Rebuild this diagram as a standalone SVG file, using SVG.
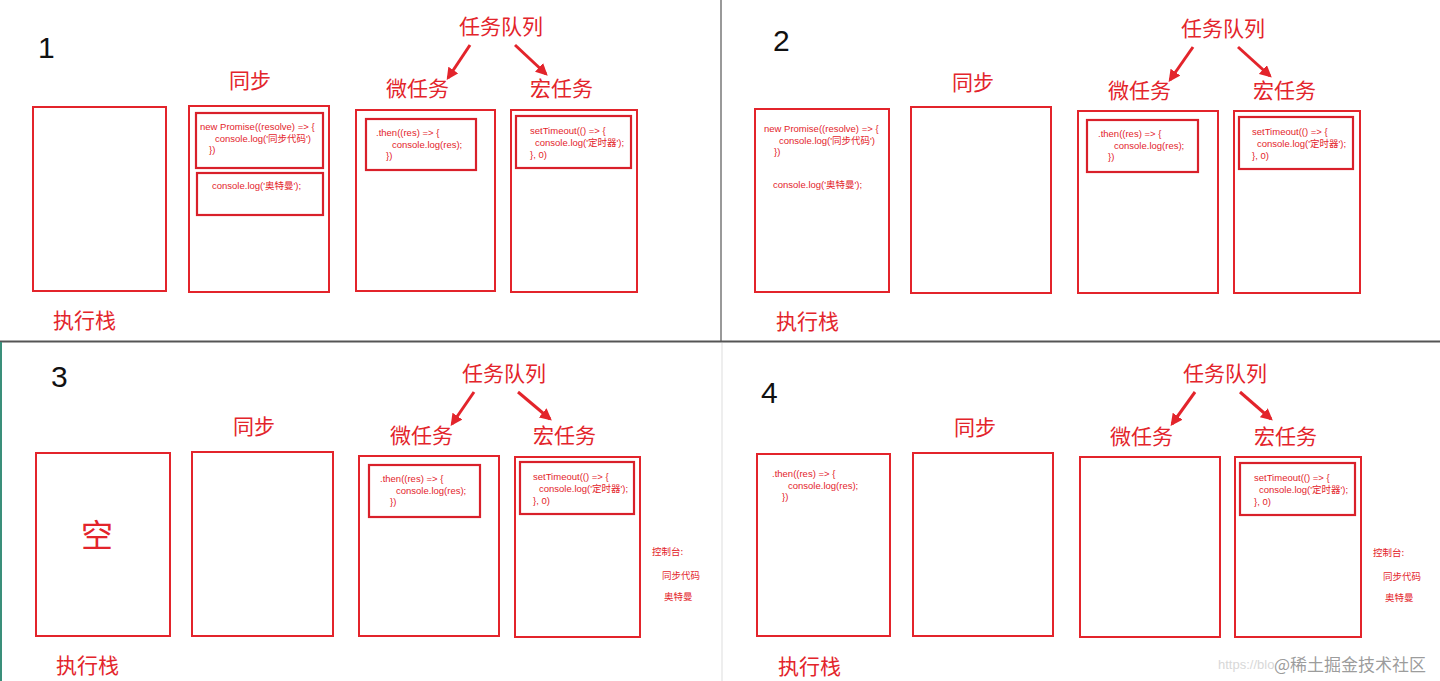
<svg xmlns="http://www.w3.org/2000/svg" width="1440" height="681" viewBox="0 0 1440 681">
<defs>
<marker id="ah" viewBox="0 0 10 10" refX="8" refY="5" markerWidth="4" markerHeight="4" orient="auto" markerUnits="strokeWidth">
<path d="M0,0 L10,5 L0,10 z" fill="#e3242b"/>
</marker>
</defs>
<style>
.box{fill:none;stroke:#e3242b;stroke-width:2}
.inner{fill:none;stroke:#d9202a;stroke-width:2.2}
.t{font-family:"Noto Sans CJK SC","Microsoft YaHei",sans-serif;fill:#e3242b}
.h{font-size:21px}
.num{font-family:"Liberation Sans",Arial,sans-serif;font-size:30px;fill:#111}
.code{font-family:"Liberation Sans","Noto Sans CJK SC",sans-serif;font-size:9.5px;fill:#e3242b}
.cn{font-family:"Noto Sans CJK SC",sans-serif;font-size:9.5px;fill:#e3242b}
.arr{stroke:#e3242b;stroke-width:3;fill:none;marker-end:url(#ah)}
.big{font-size:32px}
</style>
<rect x="0" y="0" width="1440" height="681" fill="#ffffff"/>
<g id="dividers">
<line x1="721" y1="0" x2="721" y2="341" stroke="#777" stroke-width="1.5"/>
<line x1="0" y1="341.5" x2="1440" y2="341.5" stroke="#555" stroke-width="2"/>
<line x1="722" y1="343" x2="722" y2="681" stroke="#ddd" stroke-width="1"/>
<line x1="1" y1="342" x2="1" y2="681" stroke="#3a8f7a" stroke-width="2"/>
</g>

<!-- Panel 1 -->
<g id="p1-labels">
<text class="num" x="38" y="58">1</text>
<text class="t h" x="229" y="88">同步</text>
<text class="t h" x="459" y="34" font-size="22">任务队列</text>
<text class="t h" x="386" y="96">微任务</text>
<text class="t h" x="530" y="96">宏任务</text>
<text class="t h" x="53" y="328" font-size="20">执行栈</text>
</g>
<g id="p1-stack"><rect class="box" x="33" y="107" width="133" height="184"/></g>
<g id="p1-sync">
<rect class="box" x="189" y="106" width="140" height="186"/>
<rect class="inner" x="196" y="113" width="127" height="55"/>
<text class="code" x="200" y="130">new Promise((resolve) =&gt; {</text>
<text class="code" x="215" y="142">console.log('同步代码')</text>
<text class="code" x="209" y="153">})</text>
<rect class="inner" x="197" y="173" width="126" height="42"/>
<text class="code" x="212" y="189">console.log('奥特曼');</text>
</g>
<g id="p1-micro">
<rect class="box" x="356" y="110" width="139" height="181"/>
<rect class="inner" x="366" y="119" width="110" height="51"/>
<text class="code" x="376" y="136">.then((res) =&gt; {</text>
<text class="code" x="392" y="148">console.log(res);</text>
<text class="code" x="386" y="159">})</text>
</g>
<g id="p1-macro">
<rect class="box" x="511" y="110" width="126" height="182"/>
<rect class="inner" x="516" y="116" width="115" height="52"/>
<text class="code" x="530" y="134">setTimeout(() =&gt; {</text>
<text class="code" x="535" y="146">console.log('定时器');</text>
<text class="code" x="530" y="158">}, 0)</text>
</g>

<!-- Panel 2 -->
<g id="p2-labels">
<text class="num" x="773" y="51">2</text>
<text class="t h" x="952" y="90">同步</text>
<text class="t h" x="1181" y="36" font-size="22">任务队列</text>
<text class="t h" x="1108" y="98">微任务</text>
<text class="t h" x="1253" y="98">宏任务</text>
<text class="t h" x="776" y="329" font-size="20">执行栈</text>
</g>
<g id="p2-stack">
<rect class="box" x="755" y="109" width="134" height="183"/>
<text class="code" x="764" y="132">new Promise((resolve) =&gt; {</text>
<text class="code" x="779" y="144">console.log('同步代码')</text>
<text class="code" x="774" y="155">})</text>
<text class="code" x="773" y="188">console.log('奥特曼');</text>
</g>
<g id="p2-sync"><rect class="box" x="911" y="107" width="140" height="186"/></g>
<g id="p2-micro">
<rect class="box" x="1078" y="111" width="140" height="182"/>
<rect class="inner" x="1087" y="120" width="111" height="52"/>
<text class="code" x="1098" y="137">.then((res) =&gt; {</text>
<text class="code" x="1114" y="149">console.log(res);</text>
<text class="code" x="1108" y="160">})</text>
</g>
<g id="p2-macro">
<rect class="box" x="1234" y="111" width="126" height="182"/>
<rect class="inner" x="1239" y="117" width="114" height="52"/>
<text class="code" x="1252" y="135">setTimeout(() =&gt; {</text>
<text class="code" x="1257" y="147">console.log('定时器');</text>
<text class="code" x="1252" y="159">}, 0)</text>
</g>

<!-- Panel 3 -->
<g id="p3-labels">
<text class="num" x="51" y="387">3</text>
<text class="t h" x="233" y="434">同步</text>
<text class="t h" x="462" y="381" font-size="22">任务队列</text>
<text class="t h" x="390" y="443">微任务</text>
<text class="t h" x="533" y="443">宏任务</text>
<text class="t h" x="56" y="673" font-size="20">执行栈</text>
</g>
<g id="p3-stack">
<rect class="box" x="36" y="453" width="134" height="183"/>
<text class="t big" x="81" y="547">空</text>
</g>
<g id="p3-sync"><rect class="box" x="192" y="452" width="141" height="184"/></g>
<g id="p3-micro">
<rect class="box" x="359" y="456" width="140" height="180"/>
<rect class="inner" x="369" y="465" width="111" height="52"/>
<text class="code" x="380" y="482">.then((res) =&gt; {</text>
<text class="code" x="396" y="494">console.log(res);</text>
<text class="code" x="390" y="505">})</text>
</g>
<g id="p3-macro">
<rect class="box" x="515" y="457" width="125" height="180"/>
<rect class="inner" x="520" y="462" width="114" height="52"/>
<text class="code" x="533" y="480">setTimeout(() =&gt; {</text>
<text class="code" x="539" y="492">console.log('定时器');</text>
<text class="code" x="533" y="504">}, 0)</text>
</g>
<g id="p3-console">
<text class="cn" x="652" y="555">控制台:</text>
<text class="cn" x="662" y="579">同步代码</text>
<text class="cn" x="664" y="600">奥特曼</text>
</g>

<!-- Panel 4 -->
<g id="p4-labels">
<text class="num" x="761" y="403">4</text>
<text class="t h" x="954" y="435">同步</text>
<text class="t h" x="1183" y="381" font-size="22">任务队列</text>
<text class="t h" x="1110" y="444">微任务</text>
<text class="t h" x="1254" y="444">宏任务</text>
<text class="t h" x="778" y="674" font-size="20">执行栈</text>
</g>
<g id="p4-stack">
<rect class="box" x="757" y="454" width="133" height="182"/>
<text class="code" x="772" y="477">.then((res) =&gt; {</text>
<text class="code" x="788" y="489">console.log(res);</text>
<text class="code" x="782" y="500">})</text>
</g>
<g id="p4-sync"><rect class="box" x="913" y="453" width="140" height="183"/></g>
<g id="p4-micro"><rect class="box" x="1080" y="457" width="140" height="180"/></g>
<g id="p4-macro">
<rect class="box" x="1235" y="457" width="126" height="180"/>
<rect class="inner" x="1240" y="463" width="115" height="52"/>
<text class="code" x="1254" y="481">setTimeout(() =&gt; {</text>
<text class="code" x="1259" y="493">console.log('定时器');</text>
<text class="code" x="1254" y="505">}, 0)</text>
</g>
<g id="p4-console">
<text class="cn" x="1373" y="556">控制台:</text>
<text class="cn" x="1383" y="580">同步代码</text>
<text class="cn" x="1385" y="601">奥特曼</text>
</g>

<g id="connectors">
<line class="arr" x1="470" y1="45" x2="448" y2="78"/>
<line class="arr" x1="515" y1="45" x2="546" y2="74"/>
<line class="arr" x1="1193" y1="47" x2="1170" y2="80"/>
<line class="arr" x1="1238" y1="47" x2="1270" y2="76"/>
<line class="arr" x1="474" y1="392" x2="452" y2="424"/>
<line class="arr" x1="518" y1="392" x2="550" y2="419"/>
<line class="arr" x1="1195" y1="392" x2="1172" y2="424"/>
<line class="arr" x1="1240" y1="392" x2="1271" y2="419"/>
</g>

<g id="watermark">
<text x="1218" y="669" font-family="Liberation Sans,sans-serif" font-size="13" fill="#d8d8d8">https://blo</text>
<text x="1274" y="671" font-family="Noto Sans CJK SC,sans-serif" font-size="17" fill="#8a8a8a" fill-opacity="0.85">@稀土掘金技术社区</text>
</g>
</svg>
